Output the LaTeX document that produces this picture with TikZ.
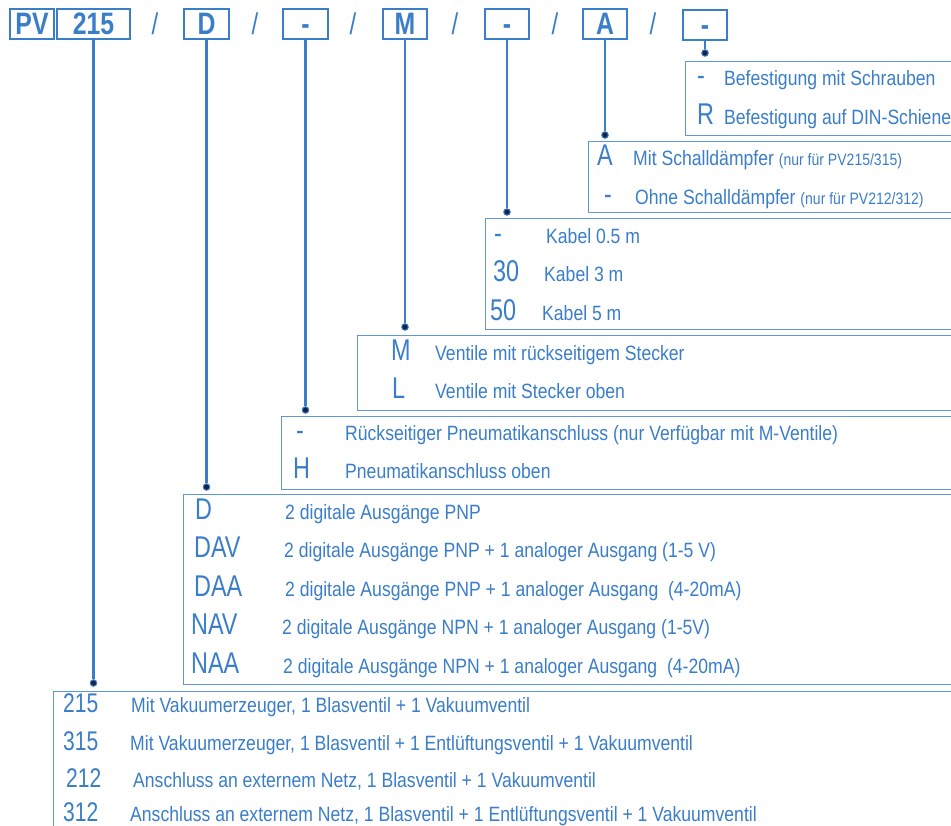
\documentclass[tikz,border=0pt]{standalone}
\usepackage{fontspec}
\setmainfont{Liberation Sans}[FakeStretch=0.85]
\newfontfamily\codefont{Liberation Sans}[FakeStretch=0.78]
\newfontfamily\headfont{Liberation Sans}[FakeStretch=0.8]
\definecolor{pvblue}{RGB}{58,125,200}
\definecolor{pvline}{RGB}{95,150,215}
\definecolor{pvdot}{RGB}{20,35,70}

\begin{document}
\begin{tikzpicture}[x=1pt, y=-1pt,
header_box/.style={rectangle, draw=pvblue, line width=1.4pt, inner sep=0pt, minimum height=30pt, text height=22pt, text depth=0pt, text=pvblue, font=\headfont\bfseries\fontsize{31}{31}\selectfont},
slash/.style={anchor=base, inner sep=0pt, text=pvblue, font=\headfont\fontsize{30}{30}\selectfont},
option_box/.style={rectangle, draw=pvline, line width=1.2pt, anchor=north west, inner sep=0pt, minimum width=900pt},
code/.style={anchor=base west, inner sep=0pt, text=pvblue, font=\codefont\fontsize{30}{30}\selectfont},
num_code/.style={code, font=\codefont\fontsize{27}{27}\selectfont},
desc/.style={anchor=base west, inner sep=0pt, text=pvblue, font=\fontsize{20.7}{24}\selectfont},
link/.style={draw=pvblue, line width=2.4pt},
dot/.style={circle, fill=pvdot, draw=pvblue, line width=1pt, inner sep=0pt, minimum size=6.5pt}
]
\useasboundingbox (0,0) rectangle (951,826);
\clip (0,0) rectangle (951,826);

% order code
\node[header_box, minimum width=44pt](h_pv) at (32,24) {PV};
\node[header_box, minimum width=73pt](h_gen) at (93.5,24) {215};
\node[header_box, minimum width=45pt](h_out) at (206.5,24) {D};
\node[header_box, minimum width=45pt](h_pneu) at (305.5,24) {-};
\node[header_box, minimum width=44pt](h_valve) at (405,24) {M};
\node[header_box, minimum width=44pt](h_cab) at (507,24) {-};
\node[header_box, minimum width=44pt](h_sil) at (605,24) {A};
\node[header_box, minimum width=44pt](h_fix) at (705,25) {-};

\node[slash](sl_one) at (155,35) {/};
\node[slash](sl_two) at (255,35) {/};
\node[slash](sl_three) at (353,35) {/};
\node[slash](sl_four) at (455,35) {/};
\node[slash](sl_five) at (555,35) {/};
\node[slash](sl_six) at (653,35) {/};

% option boxes
\node[option_box, minimum height=74pt](box_fix) at (685,61) {};
\node[option_box, minimum height=71pt](box_sil) at (588,141) {};
\node[option_box, minimum height=111pt](box_cab) at (485,218) {};
\node[option_box, minimum height=75pt](box_valve) at (357,335) {};
\node[option_box, minimum height=73pt](box_pneu) at (281,416) {};
\node[option_box, minimum height=190pt](box_out) at (183,494) {};
\node[option_box, minimum height=200pt](box_gen) at (53,691) {};

\node[dot](d_fix) at (705,53) {};
\node[dot](d_sil) at (605,135) {};
\node[dot](d_cab) at (507,212) {};
\node[dot](d_valve) at (405,327) {};
\node[dot](d_pneu) at (305.5,410) {};
\node[dot](d_out) at (206.5,487) {};
\node[dot](d_gen) at (93.5,683) {};

\draw[link](h_fix) -- (d_fix);
\draw[link](h_sil) -- (d_sil);
\draw[link](h_cab) -- (d_cab);
\draw[link](h_valve) -- (d_valve);
\draw[link](h_pneu) -- (d_pneu);
\draw[link](h_out) -- (d_out);
\draw[link](h_gen) -- (d_gen);

% mounting
\node[code](c_fix_a) at (697,85.5) {-};
\node[desc](t_fix_a) at (724,85.5) {Befestigung mit Schrauben};
\node[code](c_fix_b) at (697,124.5) {R};
\node[desc](t_fix_b) at (724,124.5) {Befestigung auf DIN-Schiene};

% silencer
\node[code](c_sil_a) at (597,165.5) {A};
\node[desc](t_sil_a) at (633,165.5) {Mit Schalldämpfer {\fontsize{16.5}{20}\selectfont (nur für PV215/315)}};
\node[code](c_sil_b) at (604,204.5) {-};
\node[desc](t_sil_b) at (635,204.5) {Ohne Schalldämpfer {\fontsize{16.5}{20}\selectfont (nur für PV212/312)}};

% cable
\node[code](c_cab_a) at (494,243.5) {-};
\node[desc](t_cab_a) at (546,243.5) {Kabel 0.5 m};
\node[code](c_cab_b) at (493,281.5) {30};
\node[desc](t_cab_b) at (544,281.5) {Kabel 3 m};
\node[code](c_cab_c) at (490,320.5) {50};
\node[desc](t_cab_c) at (542,320.5) {Kabel 5 m};

% valves
\node[code](c_valve_a) at (391,360.5) {M};
\node[desc](t_valve_a) at (435,360.5) {Ventile mit rückseitigem Stecker};
\node[code](c_valve_b) at (392,398.5) {L};
\node[desc](t_valve_b) at (435,398.5) {Ventile mit Stecker oben};

% pneumatic port
\node[code](c_pneu_a) at (296,440.5) {-};
\node[desc](t_pneu_a) at (345,440.5) {Rückseitiger Pneumatikanschluss (nur Verfügbar mit M-Ventile)};
\node[code](c_pneu_b) at (293,478.5) {H};
\node[desc](t_pneu_b) at (345,478.5) {Pneumatikanschluss oben};

% outputs
\node[code](c_out_a) at (195,519.5) {D};
\node[desc](t_out_a) at (285,519.5) {2 digitale Ausgänge PNP};
\node[code](c_out_b) at (194,557.5) {DAV};
\node[desc](t_out_b) at (284,557.5) {2 digitale Ausgänge PNP + 1 analoger Ausgang (1-5 V)};
\node[code](c_out_c) at (194,596.5) {DAA};
\node[desc](t_out_c) at (285,596.5) {2 digitale Ausgänge PNP + 1 analoger Ausgang\ \ (4-20mA)};
\node[code](c_out_d) at (191,634.5) {NAV};
\node[desc](t_out_d) at (282,634.5) {2 digitale Ausgänge NPN + 1 analoger Ausgang (1-5V)};
\node[code](c_out_e) at (191,673.5) {NAA};
\node[desc](t_out_e) at (283,673.5) {2 digitale Ausgänge NPN + 1 analoger Ausgang\ \ (4-20mA)};

% generator
\node[num_code](c_gen_a) at (63,712.5) {215};
\node[desc](t_gen_a) at (131,712.5) {Mit Vakuumerzeuger, 1 Blasventil + 1 Vakuumventil};
\node[num_code](c_gen_b) at (63,750.5) {315};
\node[desc](t_gen_b) at (130,750.5) {Mit Vakuumerzeuger, 1 Blasventil + 1 Entlüftungsventil + 1 Vakuumventil};
\node[num_code](c_gen_c) at (66,787.5) {212};
\node[desc](t_gen_c) at (133,787.5) {Anschluss an externem Netz, 1 Blasventil + 1 Vakuumventil};
\node[num_code](c_gen_d) at (63,821.5) {312};
\node[desc](t_gen_d) at (130,821.5) {Anschluss an externem Netz, 1 Blasventil + 1 Entlüftungsventil + 1 Vakuumventil};

\end{tikzpicture}
\end{document}
